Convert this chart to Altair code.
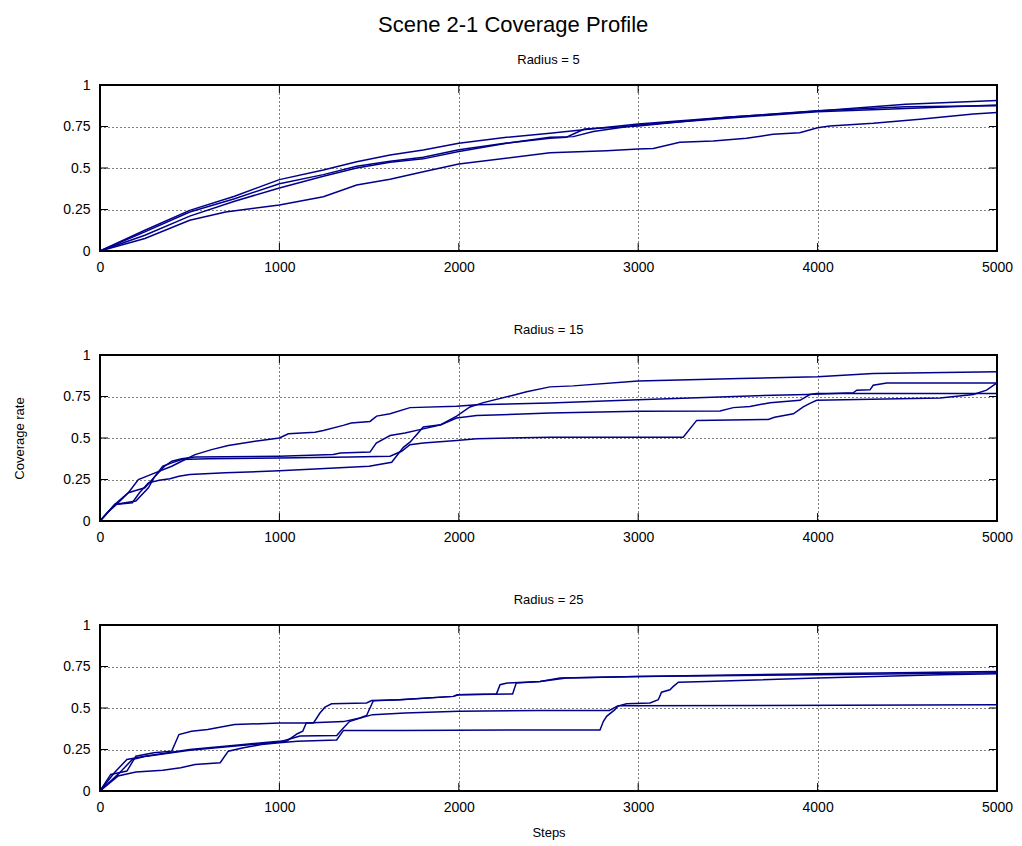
import altair as alt
import pandas as pd

TITLE = "Scene 2-1 Coverage Profile"
PANEL_TITLES = ["Radius = 5", "Radius = 15", "Radius = 25"]
X_TITLE = "Steps"
Y_TITLE = "Coverage rate"
X_TICKS = [0, 1000, 2000, 3000, 4000, 5000]
Y_TICKS = [0, 0.25, 0.5, 0.75, 1]
LINE_COLOR = "#00008b"
FONT = "Liberation Sans"

# ---------------- Radius = 5 ----------------
R5_A_X = [0, 250, 500, 750, 1000, 1245, 1431, 1617, 1802, 2000, 2267, 2508, 3000, 3493, 4000, 4492, 5000]
R5_A_Y = [0, 0.125, 0.245, 0.33, 0.43, 0.488, 0.538, 0.578, 0.608, 0.649, 0.685, 0.709, 0.765, 0.805, 0.843, 0.884, 0.906]
R5_B_X = [0, 250, 500, 750, 1000, 1245, 1431, 1617, 1802, 2000, 2267, 2508, 2638, 2750, 3000, 3493, 4000, 4492, 5000]
R5_B_Y = [0, 0.115, 0.235, 0.315, 0.405, 0.46, 0.51, 0.54, 0.565, 0.61, 0.65, 0.685, 0.689, 0.72, 0.759, 0.80, 0.839, 0.859, 0.88]
R5_C_X = [0, 250, 500, 750, 1000, 1245, 1431, 1617, 1802, 2000, 2267, 2508, 2600, 2700, 3000, 3493, 4000, 4492, 5000]
R5_C_Y = [0, 0.095, 0.21, 0.30, 0.38, 0.45, 0.50, 0.535, 0.555, 0.60, 0.649, 0.679, 0.685, 0.735, 0.753, 0.805, 0.845, 0.869, 0.875]
R5_D_X = [0, 250, 500, 700, 1000, 1245, 1431, 1617, 1802, 2000, 2508, 2824, 3000, 3084, 3232, 3418, 3604, 3752, 3900, 4000, 4068, 4310, 4570, 4868, 5000]
R5_D_Y = [0, 0.075, 0.185, 0.235, 0.277, 0.327, 0.398, 0.432, 0.478, 0.524, 0.592, 0.604, 0.614, 0.618, 0.655, 0.663, 0.679, 0.703, 0.713, 0.743, 0.753, 0.769, 0.793, 0.825, 0.835]

# ---------------- Radius = 15 ----------------
R15_A_X = [0, 50, 83, 158, 214, 307, 400, 455, 530, 622, 715, 864, 1000, 1050, 1198, 1245, 1356, 1400, 1505, 1542, 1617, 1728, 1988, 2100, 2508, 3000, 3753, 3939, 4199, 4218, 4292, 4310, 4385, 5000]
R15_A_Y = [0, 0.06, 0.09, 0.17, 0.25, 0.29, 0.33, 0.36, 0.40, 0.43, 0.455, 0.48, 0.50, 0.525, 0.535, 0.545, 0.576, 0.59, 0.60, 0.632, 0.646, 0.683, 0.691, 0.70, 0.711, 0.731, 0.758, 0.762, 0.772, 0.788, 0.79, 0.818, 0.832, 0.832]
R15_B_X = [0, 83, 158, 250, 307, 360, 400, 455, 530, 1000, 1300, 1340, 1505, 1540, 1617, 1700, 1802, 1900, 1988, 2100, 2508, 3000, 3456, 3530, 3623, 3735, 3902, 3957, 3995, 5000]
R15_B_Y = [0, 0.10, 0.17, 0.20, 0.27, 0.33, 0.36, 0.375, 0.385, 0.39, 0.40, 0.41, 0.415, 0.47, 0.515, 0.53, 0.555, 0.58, 0.62, 0.635, 0.65, 0.661, 0.663, 0.683, 0.69, 0.713, 0.727, 0.762, 0.768, 0.768]
R15_C_X = [0, 83, 200, 270, 300, 350, 400, 455, 600, 1000, 1400, 1617, 1681, 1728, 1802, 1988, 2100, 2508, 3251, 3326, 3725, 3760, 3865, 3920, 3960, 3995, 4683, 4868, 4942, 5000]
R15_C_Y = [0, 0.10, 0.12, 0.20, 0.26, 0.33, 0.35, 0.37, 0.375, 0.38, 0.385, 0.39, 0.42, 0.46, 0.47, 0.485, 0.495, 0.505, 0.505, 0.606, 0.612, 0.625, 0.646, 0.687, 0.71, 0.727, 0.741, 0.762, 0.788, 0.832]
R15_D_X = [0, 83, 180, 220, 270, 330, 390, 440, 500, 700, 1000, 1198, 1500, 1626, 1691, 1728, 1802, 1900, 1988, 2062, 2137, 2304, 2378, 2508, 2638, 3000, 3567, 4000, 4310, 5000]
R15_D_Y = [0, 0.10, 0.11, 0.17, 0.23, 0.245, 0.255, 0.27, 0.28, 0.29, 0.303, 0.313, 0.33, 0.354, 0.444, 0.475, 0.566, 0.58, 0.632, 0.687, 0.713, 0.758, 0.778, 0.808, 0.814, 0.844, 0.859, 0.869, 0.889, 0.899]

# ---------------- Radius = 25 ----------------
R25_A_X = [0, 60, 150, 200, 300, 400, 440, 510, 600, 750, 1000, 1190, 1226, 1254, 1291, 1486, 1514, 1670, 1970, 1990, 2210, 2230, 2270, 2453, 2564, 3000, 4000, 5000]
R25_A_Y = [0, 0.10, 0.12, 0.21, 0.23, 0.24, 0.34, 0.36, 0.37, 0.40, 0.41, 0.41, 0.47, 0.505, 0.525, 0.53, 0.545, 0.55, 0.57, 0.58, 0.585, 0.64, 0.65, 0.66, 0.68, 0.69, 0.707, 0.72]
R25_B_X = [0, 80, 150, 250, 500, 800, 1000, 1040, 1100, 1130, 1150, 1357, 1449, 1486, 1523, 1670, 1970, 2000, 2300, 2320, 2453, 2600, 3000, 4000, 5000]
R25_B_Y = [0, 0.11, 0.19, 0.21, 0.25, 0.28, 0.30, 0.30, 0.345, 0.36, 0.41, 0.418, 0.44, 0.455, 0.543, 0.55, 0.57, 0.58, 0.585, 0.65, 0.66, 0.68, 0.69, 0.70, 0.713]
R25_C_X = [0, 100, 180, 260, 500, 800, 1000, 1115, 1320, 1340, 1390, 1450, 1520, 1700, 2000, 2450, 2840, 2880, 2935, 3066, 3112, 3130, 3177, 3196, 3224, 3380, 4000, 4683, 5000]
R25_C_Y = [0, 0.10, 0.19, 0.21, 0.245, 0.275, 0.295, 0.331, 0.335, 0.36, 0.418, 0.44, 0.46, 0.47, 0.48, 0.485, 0.485, 0.51, 0.525, 0.53, 0.55, 0.595, 0.61, 0.63, 0.655, 0.66, 0.68, 0.70, 0.707]
R25_D_X = [0, 100, 200, 350, 450, 530, 670, 715, 800, 900, 1000, 1100, 1319, 1357, 1670, 2416, 2787, 2806, 2824, 2870, 2889, 5000]
R25_D_Y = [0, 0.09, 0.115, 0.125, 0.14, 0.16, 0.17, 0.24, 0.26, 0.28, 0.29, 0.30, 0.307, 0.365, 0.365, 0.368, 0.368, 0.42, 0.45, 0.49, 0.513, 0.519]

PANELS = [
    [("a", R5_A_X, R5_A_Y), ("b", R5_B_X, R5_B_Y), ("c", R5_C_X, R5_C_Y), ("d", R5_D_X, R5_D_Y)],
    [("a", R15_A_X, R15_A_Y), ("b", R15_B_X, R15_B_Y), ("c", R15_C_X, R15_C_Y), ("d", R15_D_X, R15_D_Y)],
    [("a", R25_A_X, R25_A_Y), ("b", R25_B_X, R25_B_Y), ("c", R25_C_X, R25_C_Y), ("d", R25_D_X, R25_D_Y)],
]

W = 897
H = 166
TICK = 8

xscale = alt.Scale(domain=[0, 5000], nice=False, zero=False)
yscale = alt.Scale(domain=[0, 1], nice=False, zero=False)

X_AXIS = dict(values=X_TICKS, format="d", grid=True, gridDash=[1, 3],
              gridColor="black", gridOpacity=1, gridWidth=1,
              ticks=False, domain=False, labelFlush=False,
              labelPadding=9, labelFontSize=14, labelColor="black",
              labelFont=FONT, titleFont=FONT, titleFontSize=13,
              titleFontWeight="normal", titleColor="black", titlePadding=12)
Y_AXIS = dict(values=Y_TICKS, format=".2~f", grid=True, gridDash=[1, 3],
              gridColor="black", gridOpacity=1, gridWidth=1,
              ticks=False, domain=False, labelFlush=False,
              labelPadding=10, labelFontSize=14, labelColor="black",
              labelFont=FONT, titleFont=FONT, titleFontSize=13,
              titleFontWeight="normal", titleColor="black", titlePadding=36)


def panel(idx):
    rows = []
    for run, xs, ys in PANELS[idx]:
        for x, y in zip(xs, ys):
            rows.append({"step": x, "value": y, "run": run})
    df = pd.DataFrame(rows)

    xt = X_TITLE if idx == 2 else None
    yt = Y_TITLE if idx == 1 else None

    def xenc(field):
        return alt.X(field, scale=xscale, axis=alt.Axis(**X_AXIS), title=xt)

    def yenc(field):
        return alt.Y(field, scale=yscale, axis=alt.Axis(**Y_AXIS), title=yt)

    lines = alt.Chart(df).mark_line(color=LINE_COLOR, strokeWidth=1.5).encode(
        x=xenc("step:Q"), y=yenc("value:Q"), detail="run:N",
    )

    xt_df = pd.DataFrame({"t": X_TICKS})
    yt_df = pd.DataFrame({"t": Y_TICKS})
    bottom_ticks = alt.Chart(xt_df).mark_rule(color="black", strokeWidth=1).encode(
        x=xenc("t:Q"), y=alt.value(H), y2=alt.value(H - TICK))
    top_ticks = alt.Chart(xt_df).mark_rule(color="black", strokeWidth=1).encode(
        x=xenc("t:Q"), y=alt.value(0), y2=alt.value(TICK))
    left_ticks = alt.Chart(yt_df).mark_rule(color="black", strokeWidth=1).encode(
        y=yenc("t:Q"), x=alt.value(0), x2=alt.value(TICK))
    right_ticks = alt.Chart(yt_df).mark_rule(color="black", strokeWidth=1).encode(
        y=yenc("t:Q"), x=alt.value(W - TICK), x2=alt.value(W))

    return alt.layer(lines, bottom_ticks, top_ticks, left_ticks, right_ticks).properties(
        width=W, height=H,
        title=alt.TitleParams(PANEL_TITLES[idx], fontSize=13, fontWeight="normal",
                              font=FONT, color="black", anchor="middle", offset=11),
    )


chart = alt.vconcat(panel(0), panel(1), panel(2), spacing=48).properties(
    title=alt.TitleParams(TITLE, fontSize=22, fontWeight="normal", font=FONT,
                          color="black", anchor="middle", offset=16),
    padding={"left": 12, "top": 14, "right": 5, "bottom": 5},
).configure_view(stroke="black", strokeWidth=2)

chart.save("out.html", embed_options={"renderer": "svg", "actions": False})
